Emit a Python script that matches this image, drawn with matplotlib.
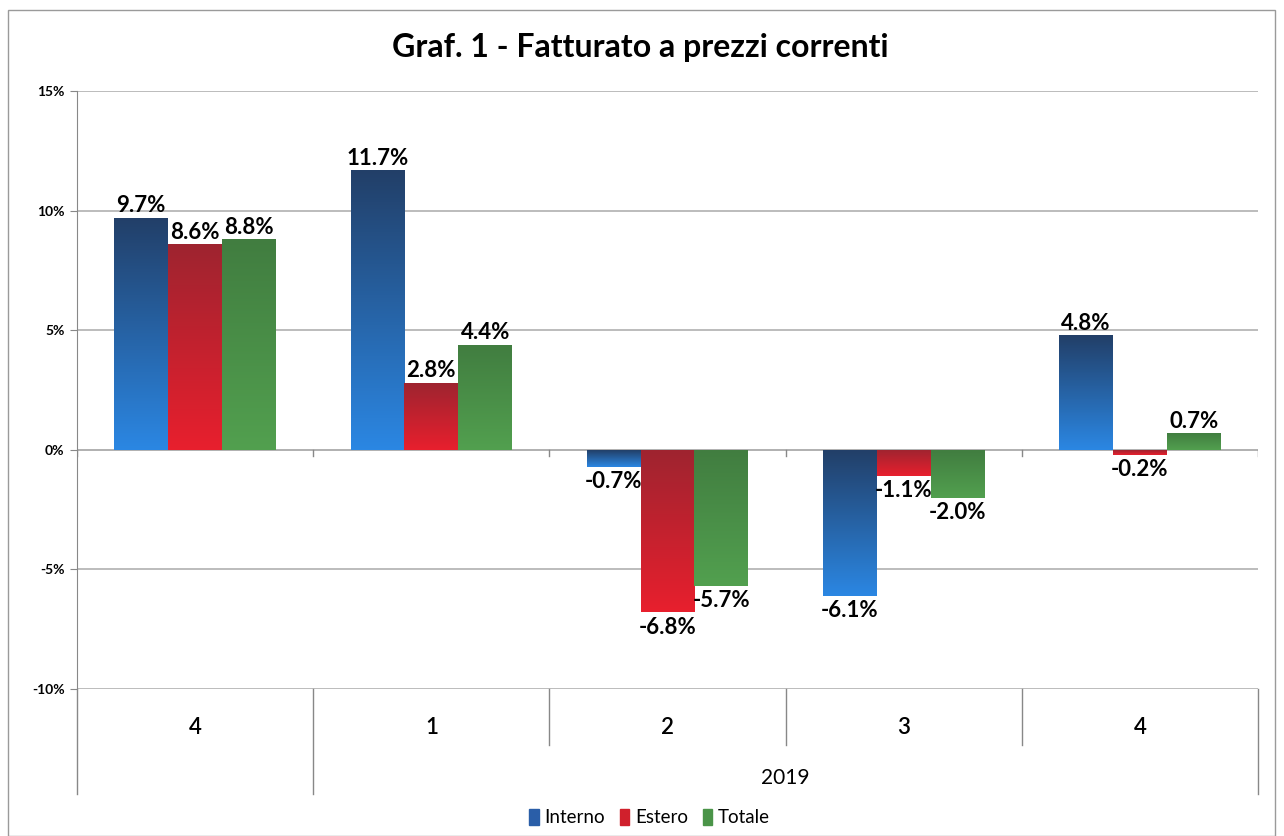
import numpy as np
import matplotlib.pyplot as plt
from matplotlib.colors import LinearSegmentedColormap
from matplotlib.lines import Line2D
from matplotlib.patches import Rectangle

# dati (variazioni % fatturato a prezzi correnti)
trimestri = ['4', '1', '2', '3', '4']
anno = '2019'
serie = ['Interno', 'Estero', 'Totale']
interno = [9.7, 11.7, -0.7, -6.1, 4.8]
estero = [8.6, 2.8, -6.8, -1.1, -0.2]
totale = [8.8, 4.4, -5.7, -2.0, 0.7]

# colori sfumati stile Excel (alto scuro -> basso chiaro)
gradienti = [('#223f68', '#2b87e3'), ('#9e2430', '#e81f2d'), ('#417d40', '#52a04f')]
colori_legenda = ['#2a5ea8', '#d0202c', '#4a9448']

plt.rcParams['font.family'] = ['Lato', 'DejaVu Sans']

fig = plt.figure(figsize=(12.84, 8.36), dpi=100)
ax = fig.add_axes([0.06, 0.1758, 0.9198, 0.7153])

# cornice esterna del grafico
fig.patches.append(Rectangle((0.006, 0.0), 0.987, 0.988, transform=fig.transFigure,
                             fill=False, edgecolor='#9a9a9a', linewidth=1.0))

x = np.arange(len(trimestri))
w = 0.228
valori = [interno, estero, totale]

for i, vals in enumerate(valori):
    pos = x + (i - 1) * w
    bars = ax.bar(pos, vals, width=w, color=colori_legenda[i], linewidth=0, zorder=3)
    cmap = LinearSegmentedColormap.from_list('g%d' % i, gradienti[i])
    grad = np.linspace(0, 1, 256).reshape(-1, 1)
    for b, v in zip(bars, vals):
        x0 = b.get_x()
        x1 = x0 + b.get_width()
        y0, y1 = min(0, v), max(0, v)
        im = ax.imshow(grad, cmap=cmap, extent=[x0, x1, y0, y1], origin='upper',
                       aspect='auto', zorder=4)
        im.set_clip_path(b)
        if v >= 0:
            ax.annotate('%.1f%%' % v, (b.get_x() + w / 2, v), xytext=(0, 1),
                        textcoords='offset points', ha='center', va='bottom',
                        fontsize=16, fontweight='bold', zorder=6)
        else:
            ax.annotate('%.1f%%' % v, (b.get_x() + w / 2, v), xytext=(0, -3),
                        textcoords='offset points', ha='center', va='top',
                        fontsize=16, fontweight='bold', zorder=6)

ax.set_xlim(-0.5, len(trimestri) - 0.5)
ax.set_ylim(-10, 15)
ax.set_yticks([-10, -5, 0, 5, 10, 15])
ax.set_yticklabels(['%d%%' % t for t in [-10, -5, 0, 5, 10, 15]], fontsize=10,
                   fontweight='bold')
ax.yaxis.grid(True, color='#b0b0b0', linewidth=1.2, zorder=0)
ax.axhline(0, color='#b0b0b0', linewidth=1.2, zorder=2)
ax.set_xticks([])
ax.tick_params(axis='y', length=5, color='#888888', pad=4)
for s in ['top', 'right', 'bottom']:
    ax.spines[s].set_visible(False)
ax.spines['left'].set_color('#888888')

# tacche sull'asse dello zero ai confini delle categorie
for b in np.arange(-0.5, len(trimestri), 1.0):
    ax.plot([b, b], [0, -0.25], color='#888888', linewidth=1, zorder=2)

# etichette di categoria a due livelli sotto il grafico
for i, t in enumerate(trimestri):
    ax.text(i, -11.6, t, ha='center', va='center', fontsize=16, fontweight='semibold',
            clip_on=False)
ax.text(2.5, -13.7, anno, ha='center', va='center', fontsize=15, clip_on=False)
confini = np.arange(-0.5, len(trimestri), 1.0)
for j, b in enumerate(confini):
    lungo = j in (0, 1, len(confini) - 1)
    ax.add_line(Line2D([b, b], [-10, -14.4 if lungo else -12.35], color='#888888',
                       linewidth=1, clip_on=False))

# titolo centrato sulla figura
fig.text(0.499, 0.943, 'Graf. 1 - Fatturato a prezzi correnti', ha='center', va='center',
         fontsize=23, fontweight='bold')

# legenda in basso
maniglie = [Rectangle((0, 0), 1, 1, color=c) for c in colori_legenda]
fig.legend(maniglie, serie, loc='center', bbox_to_anchor=(0.506, 0.022), ncol=3,
           frameon=False, fontsize=13.5, handlelength=0.5, handleheight=0.9,
           handletextpad=0.3, columnspacing=0.8)

fig.savefig('out.png', dpi=100)
